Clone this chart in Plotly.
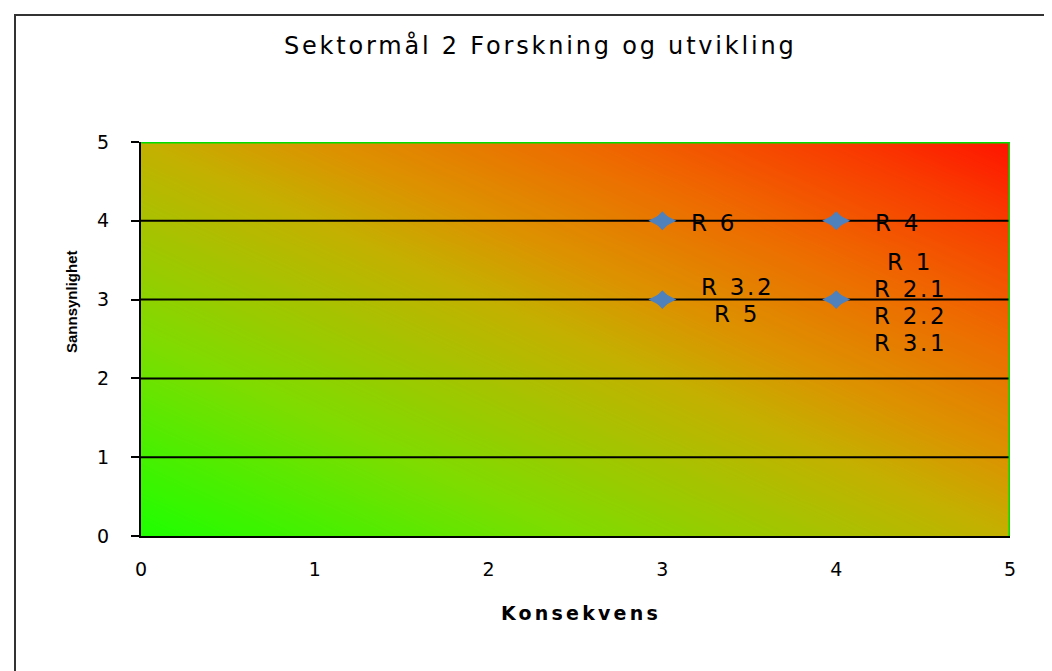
import numpy as np
import plotly.graph_objects as go

# ---- data ----
title_text = "Sektormål 2 Forskning og utvikling"
x_title = "Konsekvens"
y_title = "Sannsynlighet"
axis_ticks = [0, 1, 2, 3, 4, 5]
grid_levels = [1, 2, 3, 4]
konsekvens = [3, 4, 3, 4]
sannsynlighet = [4, 4, 3, 3]
risk_labels = [["R 6"], ["R 4"], ["R 3.2", "R 5"], ["R 1", "R 2.1", "R 2.2", "R 3.1"]]

# ---- styling ----
label_xshift = [52, 62, 75, 74]
label_yshift = [-2, -2, -1, -3]
LINE_STEP = 27
FONT = "DejaVu Sans"
W, H = 1052, 671
OFF = 8  # page body margin in the browser
# reference-pixel geometry of the plot area
REF_L, REF_R, REF_T, REF_B = 141, 1010, 142, 536
ML, MT = REF_L - OFF, REF_T - OFF
MR, MB = W - (REF_R - OFF), H - (REF_B - OFF)
PW, PH = REF_R - REF_L, REF_B - REF_T


def spaced(s, px):
    return f'<span style="letter-spacing:{px}px">{s}</span>'


def rx(px):  # reference pixel x -> paper
    return (px - REF_L) / PW


def ry(py):  # reference pixel y -> paper
    return (REF_B - py) / PH


fig = go.Figure()

# gradient background (diagonal green -> olive -> red)
lo, hi = axis_ticks[0], axis_ticks[-1]
gx = np.linspace(lo, hi, 101)
gy = np.linspace(lo, hi, 101)
GX, GY = np.meshgrid(gx, gy)
gz = (GX + GY) / (2 * hi)
fig.add_trace(go.Heatmap(
    x=gx, y=gy, z=gz, zmin=0, zmax=1, zsmooth="best", showscale=False,
    hoverinfo="skip",
    colorscale=[[0, "#1EFF00"], [0.25, "#7EDC00"], [0.5, "#C4B000"],
                [0.6, "#DC9200"], [0.75, "#EE6A00"], [0.9, "#F93A00"],
                [1, "#FF1400"]],
))

# horizontal gridlines
for g in grid_levels:
    fig.add_trace(go.Scatter(x=[lo, hi], y=[g, g], mode="lines",
                             line=dict(color="black", width=2),
                             hoverinfo="skip", showlegend=False))

# risk points (two overlaid diamonds give a 3:2 rhombus)
for sym, size in (("diamond", 14.5), ("diamond-wide", 20)):
    fig.add_trace(go.Scatter(
        x=konsekvens, y=sannsynlighet, mode="markers", showlegend=False,
        hoverinfo="skip" if sym == "diamond" else None,
        marker=dict(symbol=sym, size=size, color="#4F81BD",
                    line=dict(width=0)),
    ))

annotations = []
for xv, yv, lines, dx, dy in zip(konsekvens, sannsynlighet, risk_labels,
                                 label_xshift, label_yshift):
    n = len(lines)
    for i, s in enumerate(lines):
        annotations.append(dict(
            x=xv, y=yv, xref="x", yref="y", showarrow=False,
            text=spaced(s, 2.7),
            xanchor="center", yanchor="middle", align="center",
            xshift=dx, yshift=dy - (i - (n - 1) / 2) * LINE_STEP,
            font=dict(family=FONT, size=23, color="black"),
        ))

# chart title
annotations.append(dict(
    x=rx(540), y=ry(46), xref="paper", yref="paper",
    showarrow=False, xanchor="center", yanchor="middle",
    text=spaced(title_text, 2.8),
    font=dict(family=FONT, size=24, color="black"),
))
# x axis title
annotations.append(dict(
    x=rx(581), y=ry(613), xref="paper", yref="paper",
    showarrow=False, xanchor="center", yanchor="middle",
    text="<b>" + spaced(x_title, 3.2) + "</b>",
    font=dict(family=FONT, size=19, color="black"),
))
# y axis title
annotations.append(dict(
    x=rx(71), y=ry(302), xref="paper", yref="paper",
    showarrow=False, xanchor="center", yanchor="middle", textangle=-90,
    text="<b>" + y_title + "</b>",
    font=dict(family="Liberation Sans", size=15, color="black"),
))

shapes = [
    # outer chart frame
    dict(type="rect", xref="paper", yref="paper",
         x0=rx(15), x1=rx(1080), y0=ry(700), y1=ry(15),
         line=dict(color="#333333", width=2), fillcolor="rgba(0,0,0,0)",
         layer="above"),
    # green plot-area border (top & right)
    dict(type="line", xref="x", yref="y", x0=lo, x1=hi, y0=hi, y1=hi,
         line=dict(color="#00DD00", width=3), layer="above"),
    dict(type="line", xref="x", yref="y", x0=hi, x1=hi, y0=lo, y1=hi,
         line=dict(color="#00DD00", width=3), layer="above"),
]

fig.update_layout(
    width=W, height=H,
    margin=dict(l=ML, r=MR, t=MT, b=MB),
    paper_bgcolor="white", plot_bgcolor="white",
    showlegend=False,
    annotations=annotations, shapes=shapes,
    font=dict(family=FONT, size=18, color="black"),
    xaxis=dict(range=[lo, hi], tickvals=axis_ticks, ticks="",
               showline=True, linecolor="black", linewidth=2,
               showgrid=False, zeroline=False, ticklabelstandoff=15,
               tickfont=dict(family=FONT, size=19, color="black"),
               fixedrange=True),
    yaxis=dict(range=[lo, hi], tickvals=axis_ticks, ticks="outside",
               ticklen=8, tickwidth=2, tickcolor="black",
               showline=True, linecolor="black", linewidth=2,
               showgrid=False, zeroline=False, ticklabelstandoff=18,
               tickfont=dict(family=FONT, size=19, color="black"),
               fixedrange=True),
)

fig.write_html("out.html")
